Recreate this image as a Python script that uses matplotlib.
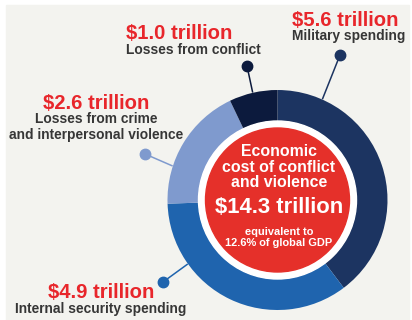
import matplotlib
matplotlib.use("Agg")
import matplotlib.pyplot as plt
from matplotlib.patches import Rectangle, Circle
import numpy as np

plt.rcParams['font.family'] = ['Liberation Sans', 'DejaVu Sans']

# cost components, trillions of US$, clockwise from 12 o'clock
labels = ['Military spending', 'Internal security spending',
          'Losses from crime\nand interpersonal violence', 'Losses from conflict']
amounts = [5.6, 4.9, 2.6, 1.0]
amount_text = ['$5.6 trillion', '$4.9 trillion', '$2.6 trillion', '$1.0 trillion']
total_text = '$14.3 trillion'
gdp_share = '12.6%'

colors = ['#1c3461', '#1f64ae', '#7f9ace', '#0c1a3d']
red = '#e5302a'
red_txt = '#e8262b'
dark_txt = '#363636'
bg = '#f3f3ef'

W, H = 412, 320
fig = plt.figure(figsize=(W / 100, H / 100), dpi=100, facecolor='white')
ax = fig.add_axes([0, 0, 1, 1])

# panel
ax.add_patch(Rectangle((6, 0), 403, 315, color=bg, zorder=0))

cx, cy = 277.5, 120
R, ring = 110, 31
ax.pie(amounts, colors=colors, startangle=90, counterclock=False,
       radius=R, center=(cx, cy),
       wedgeprops=dict(width=ring, edgecolor='none', linewidth=0))

# white gap + red centre disc
ax.add_patch(Circle((cx, cy), R - ring, color='white', zorder=3))
ax.add_patch(Circle((cx, cy), 72, color=red, zorder=4))

# leader lines: angle on the ring (deg) and dot position
leaders = [(66, (340, 265)), (215.5, (163, 38)), (162, (145, 166)), (103, (247, 254))]
for (ang, (dx, dy)), c in zip(leaders, colors):
    a = np.radians(ang)
    sx, sy = cx + (R + 1) * np.cos(a), cy + (R + 1) * np.sin(a)
    ax.plot([sx, dx], [sy, dy], color=c, lw=1.1, zorder=2)
    ax.plot(dx, dy, 'o', color=c, ms=7.5, zorder=5)

# outer labels: (x, baseline of amount, baseline of caption, ha)
spots = [(292, 294, 280, 'left'), (101, 22, 7, 'center'),
         (96, 211, 197, 'center'), (126, 281, 266, 'left')]
for (x, y1, y2, ha), amt, lab in zip(spots, amount_text, labels):
    ax.text(x, y1, amt, color=red_txt, fontsize=14.6, fontweight='bold',
            ha=ha, va='baseline', zorder=6)
    lines = lab.split('\n')
    for i, ln in enumerate(lines):
        ax.text(x, y2 - i * 15.5, ln, color=dark_txt, fontsize=9.9,
                fontweight='bold', ha=ha, va='baseline', zorder=6)

# centre text
tx = 279
for i, ln in enumerate(['Economic', 'cost of conflict', 'and violence']):
    ax.text(tx, 164 - i * 15.5, ln, color='white', fontsize=11.4,
            fontweight='bold', ha='center', va='baseline', zorder=6)
ax.text(tx, 107, total_text, color='white', fontsize=15.8, fontweight='bold',
        ha='center', va='baseline', zorder=6)
ax.text(tx, 85, 'equivalent to', color='white', fontsize=7.9,
        fontweight='bold', ha='center', va='baseline', zorder=6)
ax.text(tx, 74, gdp_share + ' of global GDP', color='white', fontsize=7.9,
        fontweight='bold', ha='center', va='baseline', zorder=6)

ax.set_xlim(0, W)
ax.set_ylim(0, H)
ax.set_aspect('auto')
ax.axis('off')
fig.savefig('out.png', dpi=100, facecolor='white')
